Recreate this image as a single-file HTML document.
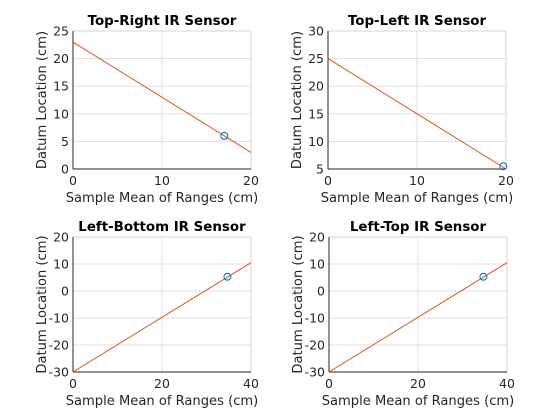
<!DOCTYPE html>
<html><head><meta charset="utf-8"><style>
body{margin:0;background:#fff}
svg{display:block;font-family:"DejaVu Sans","Liberation Sans",sans-serif}
</style></head><body>
<svg id="c" width="560" height="420"></svg>
<script>
const titles=["Top-Right IR Sensor","Top-Left IR Sensor","Left-Bottom IR Sensor","Left-Top IR Sensor"];
const xTicks=[[0,10,20],[0,10,20],[0,20,40],[0,20,40]];
const yTicks=[[0,5,10,15,20,25],[5,10,15,20,25,30],[-30,-20,-10,0,10,20],[-30,-20,-10,0,10,20]];
const lineX=[[0,20],[0,20],[0,40],[0,40]];
const lineY=[[23,3],[25,5],[-30,10.5],[-30,10.5]];
const pointX=[17,19.7,34.7,34.7];
const pointY=[6,5.5,5.3,5.3];
const boxes=[[73,31,251,169],[328,31,506,169],[73,237,251,372],[329,237,507,372]];
const NS="http://www.w3.org/2000/svg";
const svg=document.getElementById('c');
function mk(t,a,p){const e=document.createElementNS(NS,t);for(const k in a)e.setAttribute(k,a[k]);(p||svg).appendChild(e);return e;}
for(let i=0;i<4;i++){
  const [x0,y0,x1,y1]=boxes[i];
  const xt=xTicks[i],yt=yTicks[i];
  const xmin=xt[0],xmax=xt[xt.length-1],ymin=yt[0],ymax=yt[yt.length-1];
  const sx=v=>x0+(v-xmin)/(xmax-xmin)*(x1-x0);
  const sy=v=>y1-(v-ymin)/(ymax-ymin)*(y1-y0);
  const g=mk('g',{});
  
  
  mk('rect',{x:x0,y:y0,width:x1-x0,height:y1-y0,fill:'#fff'},g);
  xt.forEach(v=>{mk('line',{x1:sx(v),x2:sx(v),y1:y0,y2:y1,stroke:'#dfdfdf','stroke-width':1},g);
    const t=mk('text',{x:sx(v),y:y1+16,'text-anchor':'middle','font-size':12.5,fill:'#262626'},g);t.textContent=v;
    });
  yt.forEach(v=>{mk('line',{x1:x0,x2:x1,y1:sy(v),y2:sy(v),stroke:'#dfdfdf','stroke-width':1},g);
    const t=mk('text',{x:x0-4,y:sy(v)+4.5,'text-anchor':'end','font-size':12.5,fill:'#262626'},g);t.textContent=v;
    });
  mk('line',{x1:x0,x2:x1,y1:y0,y2:y0,stroke:'#d6d6d6'},g);
  mk('line',{x1:x1,x2:x1,y1:y0,y2:y1,stroke:'#d6d6d6'},g);
  mk('line',{x1:x0,x2:x0,y1:y0,y2:y1,stroke:'#262626'},g);
  mk('line',{x1:x0,x2:x1,y1:y1,y2:y1,stroke:'#262626'},g);
  const ln=mk('line',{x1:sx(lineX[i][0]),y1:sy(lineY[i][0]),x2:sx(lineX[i][1]),y2:sy(lineY[i][1]),stroke:'#d95319','stroke-width':1},g);
  
  const pt=mk('circle',{cx:sx(pointX[i]),cy:sy(pointY[i]),r:3.5,fill:'none',stroke:'#0072bd','stroke-width':1},g);
  
  const tt=mk('text',{x:(x0+x1)/2,y:y0-6,'text-anchor':'middle','font-size':13.4,'font-weight':'bold',fill:'#000'},g);tt.textContent=titles[i];
  
  const xl=mk('text',{x:(x0+x1)/2,y:y1+33,'text-anchor':'middle','font-size':13.1,fill:'#262626'},g);xl.textContent='Sample Mean of Ranges (cm)';
  
  const cy=(y0+y1)/2,cx=x0-27;
  const yl=mk('text',{x:cx,y:cy,'text-anchor':'middle','font-size':13.1,fill:'#262626',transform:`rotate(-90 ${cx} ${cy})`},g);yl.textContent='Datum Location (cm)';
  
}
</script>
</body></html>
